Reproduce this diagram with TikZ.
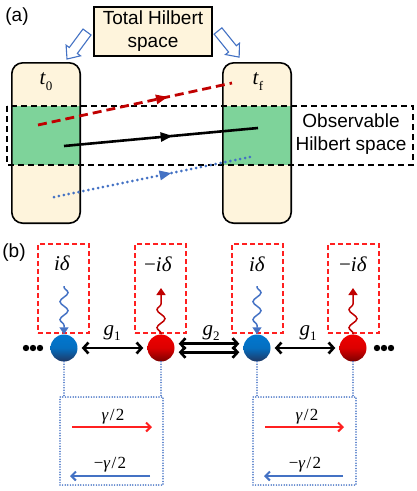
\documentclass[tikz,border=0pt]{standalone}
\usepackage{fontspec}
\setmainfont{Liberation Sans}
\newfontfamily\tms{Liberation Serif}
\usetikzlibrary{arrows.meta,decorations.pathmorphing,decorations.markings}
\definecolor{cream}{HTML}{FEF4DC}
\definecolor{obsgreen}{HTML}{7ED39A}
\definecolor{dred}{HTML}{C00000}
\definecolor{lblue}{HTML}{4472C4}
\definecolor{bred}{HTML}{FF2020}
\definecolor{ballblue}{HTML}{0078D0}
\definecolor{ballblue2}{HTML}{1F3864}
\definecolor{ballred}{HTML}{EE0000}
\definecolor{ballred2}{HTML}{7A0000}
\newcommand\fsz[1]{\fontsize{#1}{#1}\selectfont}
\newcommand\subs[1]{\raisebox{-0.28em}{\fontsize{13}{13}\selectfont #1}}
\newcommand\mvar[1]{\textit{#1}}
\newcommand\half{\kern1.2pt/\kern1.2pt2}
\begin{document}
\begin{tikzpicture}[x=1pt,y=-1pt,
  lab/.style={font=\fsz{19}, inner sep=0},
  mlab/.style={font=\tms\fsz{21}, inner sep=0},
  glab/.style={font=\tms\fsz{17}, inner sep=0},
  colbox/.style={draw=black, line width=1.6, fill=none, rounded corners=11},
  blockarr/.style={draw=lblue, fill=white, line width=1.1, line join=miter},
  midarr/.style={postaction={decorate}, decoration={markings, mark=at position #1 with {\arrow{Triangle[length=12pt,width=9pt]}}}},
  bball/.style={circle, minimum size=27, inner sep=0, top color=ballblue, bottom color=ballblue2, middle color=ballblue!85!ballblue2},
  rball/.style={circle, minimum size=27, inner sep=0, top color=ballred, bottom color=ballred2, middle color=ballred!85!ballred2},
  garr/.style={{Straight Barb[length=5pt,width=11pt]}-{Straight Barb[length=5pt,width=11pt]}, line width=2.6},
  rdbox/.style={draw=bred, dash pattern=on 5pt off 3pt, line width=1.5, minimum width=51, minimum height=89, inner sep=0},
  bdbox/.style={draw=lblue, dash pattern=on 0pt off 2.6pt, line cap=round, line width=1.7, minimum width=103, minimum height=88, inner sep=0},
  bdot/.style={draw=lblue, dash pattern=on 0pt off 2.6pt, line cap=round, line width=1.7},
  wavy/.style={decorate, decoration={snake, amplitude=4pt, segment length=18pt, pre length=1pt, post length=8pt}, line width=1.5},
  gamr/.style={draw=bred, line width=2, -{Straight Barb[length=4.5pt,width=9pt]}},
  gamb/.style={draw=lblue, line width=2, -{Straight Barb[length=4.5pt,width=9pt]}}
]
\useasboundingbox (0,0) rectangle (416,491);
% ---------- panel (a)
\node[lab] (la) at (17,17) {(a)};
\node[draw=black, line width=1.1, fill=cream, minimum width=118, minimum height=49, inner sep=0, align=center, font=\fontsize{19}{23}\selectfont] (total) at (153,31.5) {Total Hilbert\\space};
% block arrows
\begin{scope}[shift={(87,32)}, rotate=233.5]
  \draw[blockarr] (0,-5) -- (23,-5) -- (23,-9) -- (33.6,0) -- (23,9) -- (23,5) -- (0,5) -- cycle;
\end{scope}
\begin{scope}[shift={(218,31)}, rotate=-51]
  \draw[blockarr] (0,-5) -- (23,-5) -- (23,-9) -- (33.6,0) -- (23,9) -- (23,5) -- (0,5) -- cycle;
\end{scope}
% columns
\node[fill=cream, rounded corners=11, minimum width=68, minimum height=160, inner sep=0] (c0) at (46,143) {};
\node[fill=cream, rounded corners=11, minimum width=68, minimum height=160, inner sep=0] (cf) at (257,143) {};
\fill[obsgreen] (c0.west |- 0,106) rectangle (c0.east |- 0,165);
\fill[obsgreen] (cf.west |- 0,106) rectangle (cf.east |- 0,165);
\draw[colbox] (c0.south west) rectangle (c0.north east);
\draw[colbox] (cf.south west) rectangle (cf.north east);
\draw[line width=1.4, dash pattern=on 6pt off 4pt] (7,106) rectangle (413,165);
\node[mlab] (t0) at (46,82) {\mvar{t}\subs{0}};
\node[mlab] (tf) at (258,82) {\mvar{t}\subs{f}};
\node[lab, align=center, font=\fontsize{19}{23}\selectfont] (obs) at (351,134) {Observable\\Hilbert space};
% trajectories
\coordinate (ra) at (38,125); \coordinate (rb) at (232,83);
\coordinate (ka) at (64,146); \coordinate (kb) at (258,128);
\coordinate (ba) at (54,197); \coordinate (bb) at (250,157);
\draw[dred, line width=2.8, dash pattern=on 9pt off 5pt, midarr=0.67] (ra) -- (rb);
\draw[black, line width=2.6, midarr=0.56] (ka) -- (kb);
\draw[lblue, line width=3, line cap=round, dash pattern=on 0pt off 5pt, midarr=0.6] (ba) -- (bb);
% ---------- panel (b)
\node[lab] (lb) at (14,253) {(b)};
\node[rdbox] (d1) at (63.5,288.5) {};
\node[rdbox] (d2) at (160.5,288.5) {};
\node[rdbox] (d3) at (257.5,288.5) {};
\node[rdbox] (d4) at (353.5,288.5) {};
\node[mlab] (e1) at (62,263) {\mvar{i}\mvar{δ}};
\node[mlab] (e2) at (158,264) {−\mvar{i}\mvar{δ}};
\node[mlab] (e3) at (257,264) {\mvar{i}\mvar{δ}};
\node[mlab] (e4) at (353,264) {−\mvar{i}\mvar{δ}};
\node[bball] (n1) at (64,348) {};
\node[rball] (n2) at (161,348) {};
\node[bball] (n3) at (257,348) {};
\node[rball] (n4) at (353,348) {};
% wavy arrows
\coordinate (w1) at (64,286); \coordinate (w2) at (161,288);
\coordinate (w3) at (257,286); \coordinate (w4) at (353,288);
\draw[lblue, wavy, -{Triangle[length=7pt,width=9pt]}] (w1) -- (n1.north);
\draw[dred, wavy, -{Triangle[length=7pt,width=9pt]}] (n2.north) -- (w2);
\draw[lblue, wavy, -{Triangle[length=7pt,width=9pt]}] (w3) -- (n3.north);
\draw[dred, wavy, -{Triangle[length=7pt,width=9pt]}] (n4.north) -- (w4);
% dots
\foreach \x in {26,33,40,377,384,391} \fill (\x,348) circle (3.2pt);
% couplings
\draw[garr, shorten <=4pt, shorten >=4pt] (n1) -- (n2);
\draw[garr, shorten <=4pt, shorten >=4pt] ([yshift=4.3pt]n2.east) -- ([yshift=4.3pt]n3.west);
\draw[garr, shorten <=4pt, shorten >=4pt] ([yshift=-4.3pt]n2.east) -- ([yshift=-4.3pt]n3.west);
\draw[garr, shorten <=4pt, shorten >=4pt] (n3) -- (n4);
\node[mlab] (g1a) at (112,333) {\mvar{g}\subs{1}};
\node[mlab] (g2) at (211,333) {\mvar{g}\subs{2}};
\node[mlab] (g1b) at (308,333) {\mvar{g}\subs{1}};
% loss/gain boxes
\node[bdbox] (bx1) at (111.5,441) {};
\node[bdbox] (bx2) at (304.5,441) {};
\draw[bdot] (n1.south) -- (n1.south |- bx1.north);
\draw[bdot] (n2.south) -- (n2.south |- bx1.north);
\draw[bdot] (n3.south) -- (n3.south |- bx2.north);
\draw[bdot] (n4.south) -- (n4.south |- bx2.north);
\coordinate (r1a) at (72,427); \coordinate (r1b) at (152,427);
\coordinate (b1a) at (150,476); \coordinate (b1b) at (70,476);
\coordinate (r2a) at (265,427); \coordinate (r2b) at (344,427);
\coordinate (b2a) at (343,476); \coordinate (b2b) at (264,476);
\draw[gamr] (r1a) -- (r1b);
\draw[gamb] (b1a) -- (b1b);
\draw[gamr] (r2a) -- (r2b);
\draw[gamb] (b2a) -- (b2b);
\node[glab] (k1) at (113,417) {\mvar{γ}\half};
\node[glab] (k2) at (110,465) {−\mvar{γ}\half};
\node[glab] (k3) at (307,417) {\mvar{γ}\half};
\node[glab] (k4) at (305,465) {−\mvar{γ}\half};
\end{tikzpicture}
\end{document}
